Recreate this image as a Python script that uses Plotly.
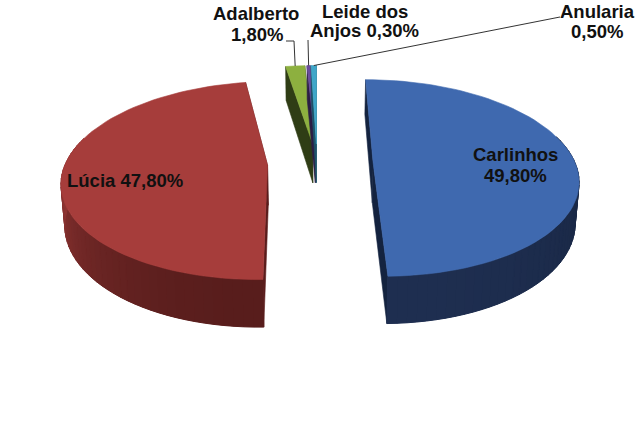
import numpy as np
import plotly.graph_objects as go

names = ["Carlinhos", "Lúcia", "Adalberto", "Leide dos Anjos", "Anularia"]
values = [49.8, 47.8, 1.8, 0.3, 0.5]
value_labels = ["49,80%", "47,80%", "1,80%", "0,30%", "0,50%"]

explode = [0.278, 0.245, 0.205, 0.205, 0.205]
top_colors = ["#3F69AF", "#A63D3B", "#8DB03F", "#6A4C9C", "#3FA6C8"]
side_far = [(24, 38, 66), (146, 54, 52), (47, 61, 21), (40, 28, 60), (25, 70, 90)]
side_near = [(30, 46, 80), (88, 29, 28), (47, 61, 21), (40, 28, 60), (25, 70, 90)]
side_flat = ["#14233F", "#5A1D1C", "#2F3D15", "#2B1E45", "#1D5268"]

CX, CY, RX, RY, K, DEPTH, SHRINK = 317, 163, 202, 96, 0.155, 40, 0.985


def project(u, v):
    s = 1 / (1 + K * v)
    return CX + RX * u * s, CY - RY * v * s, s


def down(x, y, s):
    return CX + (x - CX) * SHRINK, y + DEPTH * s


fig = go.Figure()


def poly(xs, ys, color, width=0.6):
    fig.add_trace(go.Scatter(
        x=list(xs) + [xs[0]], y=list(ys) + [ys[0]], mode="lines", fill="toself",
        fillcolor=color, line=dict(color=color, width=width),
        hoverinfo="skip", showlegend=False))


fracs = np.cumsum([0] + values) / sum(values) * 2 * np.pi
mid_points = []
for i, name in enumerate(names):
    a0, a1 = fracs[i], fracs[i + 1]
    mid = (a0 + a1) / 2
    ex, ey = explode[i] * np.sin(mid), explode[i] * np.cos(mid)
    th = np.linspace(a0, a1, max(int((a1 - a0) * 24), 3))
    us, vs = ex + np.sin(th), ey + np.cos(th)
    X, Y, S = project(us, vs)
    ax, ay, asc = project(np.array([ex]), np.array([ey]))
    mid_points.append(project(ex + np.sin(mid), ey + np.cos(mid))[:2])

    # radial faces
    for x0, y0, s0 in ((X[0], Y[0], S[0]), (X[-1], Y[-1], S[-1])):
        bx0, by0 = down(x0, y0, s0)
        bax, bay = down(ax[0], ay[0], asc[0])
        poly([x0, ax[0], bax, bx0], [y0, ay[0], bay, by0], side_flat[i])

    # outer wall: solid base, then strips shaded along the rim
    keep = np.cos(th) <= 0.25
    if keep.sum() >= 2:
        bxs, bys = down(X[keep], Y[keep], S[keep])
        mc = "rgb(%d,%d,%d)" % tuple((np.array(side_far[i]) + np.array(side_near[i])) // 2)
        poly(list(X[keep]) + list(bxs[::-1]), list(Y[keep]) + list(bys[::-1]), mc, 0)
    for j in range(len(th) - 1):
        if np.cos(th[j]) > 0.25 and np.cos(th[j + 1]) > 0.25:
            continue
        t = min(abs(np.cos((th[j] + th[j + 1]) / 2)), 1.0) if np.cos(th[j]) < 0 else 0.0
        c = [int(round(side_far[i][k] + (side_near[i][k] - side_far[i][k]) * t)) for k in range(3)]
        bx1, by1 = down(X[j], Y[j], S[j])
        bx2, by2 = down(X[j + 1], Y[j + 1], S[j + 1])
        poly([X[j], X[j + 1], bx2, bx1], [Y[j], Y[j + 1], by2, by1], "rgb(%d,%d,%d)" % tuple(c), 1.0)

    # top face
    poly([ax[0]] + list(X), [ay[0]] + list(Y), top_colors[i])

# leader lines
leaders = [
    (2, [(294, 41), (286, 41)]),
    (3, [(308, 40)]),
    (4, [(560, 17)]),
]
for idx, rest in leaders:
    sx, sy = mid_points[idx]
    fig.add_trace(go.Scatter(
        x=[sx] + [p[0] for p in rest], y=[sy] + [p[1] for p in rest], mode="lines",
        line=dict(color="#333333", width=1), hoverinfo="skip", showlegend=False))

label_lines = [
    (names[2], 256, 13), (value_labels[2], 257, 34),
    ("Leide dos", 365, 11), ("Anjos " + value_labels[3], 364, 30),
    (names[4], 597, 11), (value_labels[4], 597, 31),
    (names[0], 515, 154), (value_labels[0], 515, 175),
    (names[1] + " " + value_labels[1], 125, 180),
]
for text, x, y in label_lines:
    fig.add_annotation(x=x, y=y, text=text, showarrow=False, xref="x", yref="y",
                       xanchor="center", yanchor="middle",
                       font=dict(family="Liberation Sans", size=18.5, color="#111111", weight="bold"))

fig.update_layout(
    width=640, height=430, margin=dict(l=0, r=0, t=0, b=0),
    paper_bgcolor="white", plot_bgcolor="white", showlegend=False,
    xaxis=dict(range=[0, 640], visible=False, fixedrange=True),
    yaxis=dict(range=[430, 0], visible=False, fixedrange=True),
)
fig.write_html("out.html", config={"displayModeBar": False},
               post_script="document.body.style.margin='0';document.body.style.overflow='hidden';")
